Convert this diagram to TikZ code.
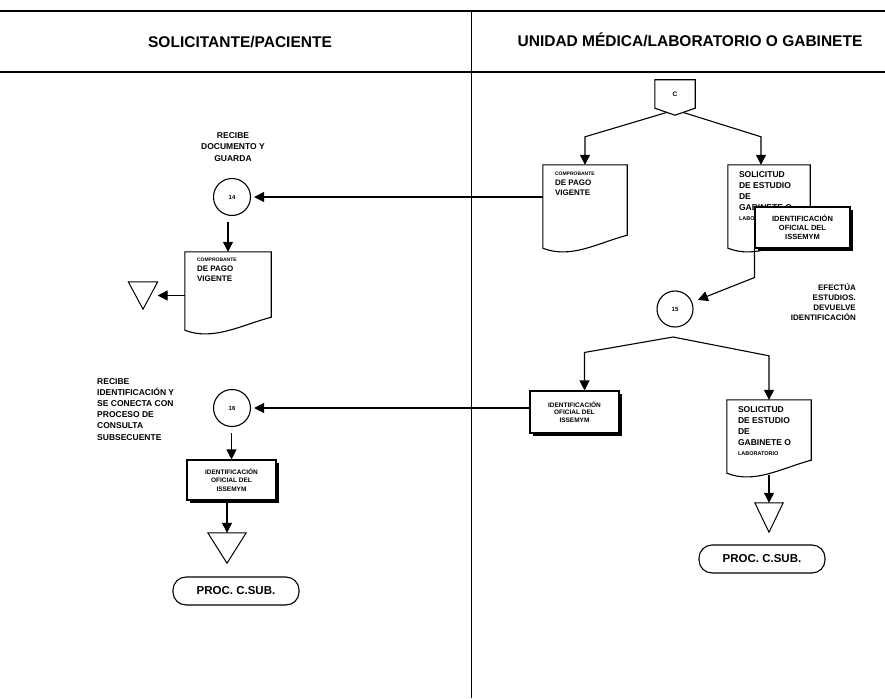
\documentclass[tikz,border=0pt]{standalone}
\usepackage{fontspec}
\setmainfont{Liberation Sans}
\usetikzlibrary{arrows.meta,shadows,calc}
\newcommand\fsz[2]{\fontsize{#1}{#2}\selectfont}
% document symbol: straight sides, wavy bottom edge
\newcommand\docoutline[1]{%
  \draw[outline] (#1.north west) -- (#1.south west)
    .. controls +(28,11) and +(-30,8) .. ([yshift=13pt]#1.south east)
    -- (#1.north east) -- cycle;}

\begin{document}
\begin{tikzpicture}[x=1pt,y=-1pt,
  outline/.style={line width=1.1pt, fill=white},
  flow/.style={line width=1.1pt, -{Triangle[length=10pt,width=10pt]}},
  rule/.style={line width=1.6pt},
  lane/.style={line width=0.9pt},
  docbox/.style={rectangle, inner sep=0pt},
  doctext/.style={inner sep=0pt, align=left, font=\bfseries\fsz{8}{10}},
  soltext/.style={inner sep=0pt, align=left, font=\bfseries\fsz{8.5}{10.7}},
  note/.style={inner sep=0pt, font=\bfseries\fsz{8.5}{11.2}},
  header/.style={inner sep=0pt, font=\bfseries\fsz{15.5}{18}},
  stepcircle/.style={circle, draw, line width=1.1pt, fill=white, minimum size=37pt,
    inner sep=0pt, font=\bfseries\fsz{6}{7}},
  idbox/.style={rectangle, draw, line width=1.1pt, fill=white, inner sep=0pt, align=center,
    drop shadow={shadow xshift=2.5pt, shadow yshift=-2.5pt, opacity=1, fill=black}},
  archive/.style={rectangle, inner sep=0pt},
  terminal/.style={rectangle, draw, line width=1.1pt, rounded corners=13pt, inner sep=0pt,
    minimum width=126pt, minimum height=28pt, font=\bfseries\fsz{11.5}{13}}
]
\useasboundingbox (0,0) rectangle (885,698);

% ---------- lane frame ----------
\coordinate (topL) at (0,11);   \coordinate (topR) at (885,11);
\coordinate (hdL) at (0,72);    \coordinate (hdR) at (885,72);
\coordinate (divT) at (471,11); \coordinate (divB) at (471,698);
\draw[rule] (topL) -- (topR);
\draw[rule] (hdL) -- (hdR);
\draw[lane] (divT) -- (divB);
\node[header] (laneA) at (240,42) {SOLICITANTE/PACIENTE};
\node[header] (laneB) at (690,40) {UNIDAD MÉDICA/LABORATORIO O GABINETE};

% ---------- off-page connector C ----------
\node[minimum width=40pt, minimum height=28pt, inner sep=0pt] (offC) at (675,94) {};
\coordinate (offCtip) at ([yshift=-7pt]offC.south);
\draw[outline] (offC.north west) -- (offC.north east) -- (offC.south east)
  -- (offCtip) -- (offC.south west) -- cycle;
\node[inner sep=0pt, font=\bfseries\fsz{6.5}{7}] (offCt) at (offC) {C};
\coordinate (offCl) at ($(offC.south west)!0.6!(offCtip)$);
\coordinate (offCr) at ($(offC.south east)!0.6!(offCtip)$);

% ---------- right lane documents ----------
\node[docbox, minimum width=84pt, minimum height=83pt] (comp2) at (585,206.5) {};
\docoutline{comp2}
\node[doctext, anchor=north west] (comp2t) at ([shift={(12,7)}]comp2.north west)
  {{\fsz{5}{6}COMPROBANTE}\\DE PAGO\\VIGENTE};

\node[docbox, minimum width=82pt, minimum height=83pt] (sol1) at (769,206.5) {};
\docoutline{sol1}
\node[soltext, anchor=north west] (sol1t) at ([shift={(11,7)}]sol1.north west)
  {SOLICITUD\\DE ESTUDIO\\DE\\GABINETE O\\{\fsz{5.5}{6}LABORATORIO}};

\node[idbox, minimum width=95pt, minimum height=41pt, font=\bfseries\fsz{7.5}{9}]
  (id1) at (802.5,227.5) {IDENTIFICACIÓN\\OFICIAL DEL\\ISSEMYM};

\draw[flow] (offCl) -- ([yshift=28pt]comp2.north) -- (comp2.north);
\draw[flow] (offCr) -- ([xshift=-8pt,yshift=28pt]sol1.north) -- ([xshift=-8pt]sol1.north);

% ---------- step 14 ----------
\node[stepcircle] (s14) at (232,197) {14};
\node[note, align=center] (n14) at (233,147) {RECIBE\\DOCUMENTO Y\\GUARDA};
\draw[flow, shorten >=3pt] (comp2.west |- s14) -- (s14);

\node[docbox, minimum width=86pt, minimum height=78pt] (d14) at (228,291) {};
\docoutline{d14}
\node[doctext, anchor=north west] (d14t) at ([shift={(12,6)}]d14.north west)
  {{\fsz{5}{6}COMPROBANTE}\\DE PAGO\\VIGENTE};
\draw[flow, shorten <=6pt] (s14.south -| d14.north) -- (d14.north);

\node[archive, minimum width=29pt, minimum height=27pt] (t14) at (143,295.5) {};
\draw[line width=1pt] (t14.north west) -- (t14.north east) -- (t14.south) -- cycle;
\draw[flow] (d14.west |- t14.east) -- (t14.east);

% ---------- step 15 ----------
\node[stepcircle, minimum size=36pt] (s15) at (675,309) {15};
\node[note, align=right, anchor=north east, font=\bfseries\fsz{8}{10}] (n15) at (856,283)
  {EFECTÚA\\ESTUDIOS.\\DEVUELVE\\IDENTIFICACIÓN};
\draw[flow, shorten >=6pt] (id1.south west) -- ++(0,29) -- (s15);
\coordinate (fork15) at (673,337);

\node[idbox, minimum width=89pt, minimum height=42pt, font=\bfseries\fsz{6.5}{7.8}]
  (id2) at (574.5,412) {IDENTIFICACIÓN\\OFICIAL DEL\\ISSEMYM};
\node[docbox, minimum width=84pt, minimum height=73pt] (sol2) at (769,436.5) {};
\docoutline{sol2}
\node[soltext, anchor=north west] (sol2t) at ([shift={(11,7)}]sol2.north west)
  {SOLICITUD\\DE ESTUDIO\\DE\\GABINETE O\\{\fsz{5.5}{6}LABORATORIO}};

\draw[flow] (fork15) -- ([xshift=10pt,yshift=38pt]id2.north) -- ([xshift=10pt]id2.north);
\draw[flow] (fork15) -- ([yshift=44pt]sol2.north) -- (sol2.north);

\node[archive, minimum width=28pt, minimum height=29pt] (t15) at (769,517.5) {};
\draw[line width=1pt] (t15.north west) -- (t15.north east) -- (t15.south) -- cycle;
\draw[flow] ([yshift=-2pt]sol2.south) -- (t15.north);
\node[terminal] (p15) at (762,559) {PROC. C.SUB.};

% ---------- step 16 ----------
\node[stepcircle] (s16) at (232,408) {16};
\node[note, align=left, anchor=north west] (n16) at (97,378)
  {RECIBE\\IDENTIFICACIÓN Y\\SE CONECTA CON\\PROCESO DE\\CONSULTA\\SUBSECUENTE};
\draw[flow, shorten >=3pt] (id2.west |- s16) -- (s16);

\node[idbox, minimum width=89pt, minimum height=40pt, font=\bfseries\fsz{6.5}{8.2}]
  (id3) at (231.5,480) {IDENTIFICACIÓN\\OFICIAL DEL\\ISSEMYM};
\draw[flow, shorten <=6pt] (s16.south -| id3.north) -- (id3.north);

\node[archive, minimum width=38pt, minimum height=30pt] (t16) at (227,548) {};
\draw[line width=1pt] (t16.north west) -- (t16.north east) -- (t16.south) -- cycle;
\draw[flow] (id3.south -| t16.north) -- (t16.north);
\node[terminal] (p16) at (236,591) {PROC. C.SUB.};
\end{tikzpicture}
\end{document}
